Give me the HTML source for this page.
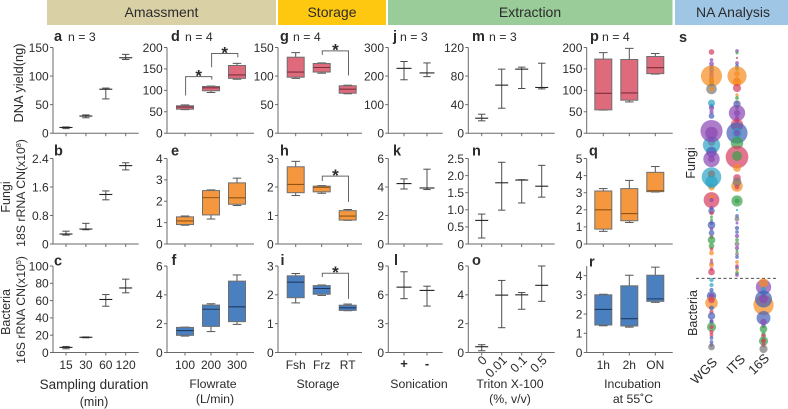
<!DOCTYPE html>
<html lang="en">
<head>
<meta charset="utf-8">
<title>Air sampling optimisation panels</title>
<style>
html,body{margin:0;padding:0;background:#fff;width:788px;height:409px;overflow:hidden}
svg{display:block;font-family:"Liberation Sans",sans-serif}
text{fill:#2b2b2b}
</style>
</head>
<body>
<svg id="figure" xmlns="http://www.w3.org/2000/svg" width="788" height="409" viewBox="0 0 788 409">
  <rect x="47" y="0" width="229" height="25" fill="#d9d0a6"/>
  <text x="161.500" y="17" font-size="14" text-anchor="middle">Amassment</text>
  <rect x="278" y="0" width="108" height="25" fill="#fdc80f"/>
  <text x="332" y="17" font-size="14" text-anchor="middle">Storage</text>
  <rect x="388" y="0" width="284.500" height="25" fill="#99cc98"/>
  <text x="530" y="17" font-size="14" text-anchor="middle">Extraction</text>
  <rect x="675" y="0" width="113" height="25" fill="#a0c6e6"/>
  <text x="733" y="17" font-size="14" text-anchor="middle">NA Analysis</text>

  <text transform="translate(23,83) rotate(-90)" font-size="12.800" text-anchor="middle">DNA yield(ng)</text>
  <text transform="translate(10,197) rotate(-90)" font-size="12.500" text-anchor="middle">Fungi</text>
  <text transform="translate(25,193) rotate(-90)" font-size="12.300" text-anchor="middle">18S rRNA CN(x10<tspan font-size="7" dy="-4">8</tspan><tspan dy="4">)</tspan></text>
  <text transform="translate(10,312) rotate(-90)" font-size="12.500" text-anchor="middle">Bacteria</text>
  <text transform="translate(25,310) rotate(-90)" font-size="12.300" text-anchor="middle">16S rRNA CN(x10<tspan font-size="7" dy="-4">5</tspan><tspan dy="4">)</tspan></text>

  <text x="94" y="389" font-size="13.500" text-anchor="middle">Sampling duration</text>
  <text x="94" y="406" font-size="12.500" text-anchor="middle">(min)</text>
  <text x="213" y="388" font-size="12.300" text-anchor="middle">Flowrate</text>
  <text x="215" y="403" font-size="12.300" text-anchor="middle">(L/min)</text>
  <text x="318" y="388" font-size="12.300" text-anchor="middle">Storage</text>
  <text x="419" y="388" font-size="12.300" text-anchor="middle">Sonication</text>
  <text x="510" y="388" font-size="12.300" text-anchor="middle">Triton X-100</text>
  <text x="510" y="403" font-size="12.300" text-anchor="middle">(%, v/v)</text>
  <text x="632.500" y="388" font-size="12.300" text-anchor="middle">Incubation</text>
  <text x="633" y="403" font-size="12.300" text-anchor="middle">at 55˚C</text>

  <text x="679" y="42" font-size="14.500" font-weight="bold">s</text>
  <text transform="translate(695,163) rotate(-90)" font-size="12.500" text-anchor="middle">Fungi</text>
  <text transform="translate(697,313) rotate(-90)" font-size="12.500" text-anchor="middle">Bacteria</text>
  <line x1="696" x2="778" y1="278.300" y2="278.300" stroke="#333" stroke-width="0.800" stroke-dasharray="3 2.500"/>
  <text transform="translate(718,363) rotate(-45)" font-size="13" text-anchor="end">WGS</text>
  <text transform="translate(746,360) rotate(-45)" font-size="13" text-anchor="end">ITS</text>
  <text transform="translate(770,359) rotate(-45)" font-size="13" text-anchor="end">16S</text>

  <g id="panels"></g>
  <g id="bubbles"></g>
</svg>

<script>
// ---------- category labels ----------
const durations = ['15', '30', '60', '120'];
const flowrates = ['100', '200', '300'];
const storages = ['Fsh', 'Frz', 'RT'];
const sonications = ['+', '-'];
const tritons = ['0', '0.01', '0.1', '0.5'];
const incubations = ['1h', '2h', 'ON'];

// ---------- y tick labels ----------
const ticksA = [0, 50, 100, 150];
const ticksB = [0, 0.8, 1.6, 2.4];
const ticksC = [0, 20, 40, 60, 80, 100];
const ticksD = [0, 50, 100, 150, 200];
const ticksE = [0, 1, 2, 3, 4];
const ticksF = [0, 2, 4, 6];
const ticksG = [0, 50, 100, 150];
const ticksH = [0, 1, 2, 3];
const ticksI = [0, 1, 2, 3];
const ticksJ = [0, 100, 200, 300];
const ticksK = [0, 2, 4, 6];
const ticksL = [0, 3, 6, 9];
const ticksM = [0, 40, 80, 120];
const ticksN = [0, 0.5, 1.0, 1.5, 2.0, 2.5];
const ticksO = [0, 2, 4, 6];
const ticksP = [0, 50, 100, 150, 200];
const ticksQ = [0, 1, 2, 3, 4, 5];
const ticksR = [0, 1, 2, 3, 4];

// ---------- error-bar series: [low, centre, high] ----------
const seriesA = [[8, 10, 11], [27, 30, 32], [60, 77, 79], [129, 132, 138]];
const seriesB = [[0.25, 0.28, 0.36], [0.40, 0.42, 0.58], [1.24, 1.39, 1.49], [2.08, 2.20, 2.28]];
const seriesC = [[4.3, 5.9, 7], [17, 17.6, 18], [53.5, 61.3, 67], [69, 74.6, 84.8]];
const seriesJ = [[187, 227, 251], [198, 211, 246]];
const seriesK = [[3.86, 4.24, 4.57], [3.82, 3.93, 5.25]];
const seriesL = [[5.6, 6.8, 8.4], [4.83, 6.46, 6.9]];
const seriesM = [[17.3, 21, 26.6], [35, 67.3, 89.7], [62.6, 89.7, 92.5], [62, 64, 98]];
const seriesN = [[0.175, 0.69, 0.875], [0.99, 1.79, 2.39], [1.2, 1.87, 1.88], [1.37, 1.69, 2.3]];
const seriesO = [[0.12, 0.4, 0.54], [1.72, 3.98, 5], [3, 4, 4.16], [3.55, 4.66, 6]];

// ---------- box series: [low, q1, median, q3, high] ----------
const seriesD = [[55, 56, 61, 64, 66], [95, 99, 106, 109, 110], [126, 128, 136, 158, 163]];
const seriesE = [[0.88, 0.91, 1.08, 1.27, 1.31], [1.17, 1.36, 2.17, 2.5, 2.53], [1.8, 1.86, 2.16, 2.86, 3.08]];
const seriesF = [[1.14, 1.19, 1.52, 1.74, 1.76], [1.45, 1.81, 3.0, 3.29, 3.38], [1.95, 2.14, 3.17, 4.95, 5.38]];
const seriesG = [[96, 98, 107, 133, 141], [105, 107, 115, 122, 123], [69, 70, 77, 83, 84]];
const seriesH = [[1.70, 1.80, 2.09, 2.71, 2.9], [1.78, 1.83, 1.99, 2.03, 2.05], [0.83, 0.84, 0.98, 1.17, 1.21]];
const seriesI = [[1.72, 1.90, 2.44, 2.66, 2.74], [1.98, 2.02, 2.22, 2.32, 2.34], [1.45, 1.46, 1.55, 1.64, 1.68]];
const seriesP = [[54, 54.5, 93, 173, 188], [73, 77, 94, 172, 198], [138, 139, 153, 179, 186]];
const seriesQ = [[0.74, 0.87, 2.0, 3.1, 3.24], [1.26, 1.36, 1.78, 3.24, 3.72], [3.04, 3.06, 3.12, 4.19, 4.53]];
const seriesR = [[1.39, 1.43, 2.24, 3, 3.03], [1.32, 1.38, 1.76, 3.47, 4.02], [2.61, 2.66, 2.79, 4.02, 4.44]];

// ---------- significance brackets: [fromCategory, toCategory, leftEnd, top, rightEnd] in data units ----------
const bracketsD = [[0, 1, 88, 132, 125], [1, 2, 154, 186, 177]];
const bracketsG = [[1, 2, 137, 144, 101]];
const bracketsH = [[1, 2, 2.21, 2.38, 1.48]];
const bracketsI = [[1, 2, 2.62, 2.75, 1.86]];

// ---------- bubble tracks: [taxon rank, abundance, phylum index] ----------
const phylumColors = ['#d63c5e', '#8a46b4', '#4360b8', '#2ba3c4', '#37a048', '#f58a1e', '#777777'];
const wgsFungi = [[22,6,0],[30,2,1],[34,4,1],[37,3,2],[40,4,2],[43,3,1],[46,4,1],[49,3,4],[52,4,4],[46,110,5],[50,6,5],[53,4,5],[59,25,6],[59,4,5],[73,10,3],[76,4,3],[78,5,1],[82,3,1],[86,6,2],[112,12,0],[115,72,3],[101,121,1],[103,36,1],[122,25,2],[129,64,1],[129,9,1],[157,9,5],[147,94,3],[144,11,6],[152,36,3],[170,59,0],[167,4,5],[170,3,1],[178,3,1],[181,8,2],[183,3,0],[187,1,4],[190,1,4],[193,2,1],[195,12,2],[199,2,1],[203,6,2],[207,2,0],[210,12,4],[216,6,4],[219,2,0],[223,4,5],[230,1,0],[233,2,1],[235,4,5],[239,2,0],[242,9,0]];
const itsFungi = [[21,2,1],[23,1,4],[28,0.5,0],[33,2,1],[36,2,2],[39,2,4],[46,90,5],[44,6,5],[50,6,5],[52,16,5],[58,14,0],[65,1.5,5],[68,2,4],[72,1.5,5],[74,11,2],[78,2,4],[83,64,1],[83,8,1],[88,3,1],[91,3,1],[95,36,0],[103,110,2],[103,22,3],[103,8,1],[113,36,4],[127,128,0],[126,22,4],[138,12,5],[148,12,0],[156,30,5],[152,16,6],[157,4,0],[171,28,4],[171,4,4],[180,0.5,3],[186,2,2],[189,4,6],[193,1,1],[198,3,2],[202,2,2],[206,3,1],[210,2,4],[214,4,6],[218,3,1],[221,1,4],[224,2,6],[227,2,2],[232,2,5],[236,2,0],[238,2,2],[240,1,5],[243,2,4],[245,2,1]];
const wgsBacteria = [[250,3,3],[255,3,3],[260,3,2],[266,20,2],[266,6,1],[273,36,5],[270,8,0],[278,4,2],[282,3,0],[286,11,2],[291,2,1],[292,3,2],[297,18,4],[297,3,0],[302,3,0],[305,2,0],[308,2,2],[312,2,2],[315,2,1],[317,9,6]];
const s16Bacteria = [[257,56,1],[253,20,5],[259,4,3],[263,6,3],[275,100,5],[269,69,2],[269,16,1],[288,45,2],[292,8,1],[296,3,1],[299,12,4],[304,3,4],[306,4,0],[310,2,0],[311,18,4],[311,4,0],[315,3,0],[319,14,6]];

// ---------- layout ----------
const COLS = [
  {axisX: 53, right: 138.7, first: 66, step: 19.9},
  {axisX: 167, right: 254, first: 185, step: 26},
  {axisX: 278, right: 362, first: 295.7, step: 26},
  {axisX: 388.3, right: 442.7, first: 404, step: 23},
  {axisX: 468.3, right: 554.7, first: 481.7, step: 20},
  {axisX: 586.7, right: 672.7, first: 603.3, step: 26}
];
const ROWS = [
  {top: 47.5, bottom: 133.2},
  {top: 158.5, bottom: 244},
  {top: 266, bottom: 352.5}
];
const PALETTE = {
  red: {fill: '#df6a7c', median: '#7c2f3e'},
  orange: {fill: '#f4973e', median: '#8f5415'},
  blue: {fill: '#4a7fc0', median: '#1d3a61'}
};
const NS = 'http://www.w3.org/2000/svg';
const panelsRoot = document.getElementById('panels');
const bubblesRoot = document.getElementById('bubbles');

function mk(tag, parent, attrs) {
  const el = document.createElementNS(NS, tag);
  Object.keys(attrs).forEach(function (k) { el.setAttribute(k, attrs[k]); });
  parent.appendChild(el);
  return el;
}

function drawAxes(g, key, col, row, cats, ticks, yScale, showLabels) {
  const yAxis = mk('line', g, {x1: col.axisX, x2: col.axisX, y1: row.top, y2: row.bottom + 0.4, stroke: '#6a6a6a', 'stroke-width': 1});
  
  
  const xAxis = mk('line', g, {x1: col.axisX, x2: col.right, y1: row.bottom, y2: row.bottom, stroke: '#6a6a6a', 'stroke-width': 1});
  
  
  ticks.forEach(function (t) {
    const y = yScale(t);
    const tick = mk('line', g, {x1: col.axisX - 3, x2: col.axisX, y1: y, y2: y, stroke: '#6a6a6a', 'stroke-width': 1});
    
    
    const label = mk('text', g, {x: col.axisX - 4.3, y: y + 4.3, 'font-size': 12, 'text-anchor': 'end'});
    
    
    label.textContent = (ticks === ticksN && t > 0) ? t.toFixed(1) : String(t);
  });
  cats.forEach(function (c, i) {
    const x = col.first + i * col.step;
    const tick = mk('line', g, {x1: x, x2: x, y1: row.bottom, y2: row.bottom + 3, stroke: '#6a6a6a', 'stroke-width': 1});
    
    
    if (!showLabels) return;
    let label;
    if (cats === tritons) {
      label = mk('text', g, {transform: 'translate(' + (x + 6) + ',361) rotate(-45)', 'font-size': 12.5, 'text-anchor': 'end'});
    } else if (cats === sonications) {
      label = mk('text', g, {x: x, y: 368, 'font-size': 13, 'font-weight': 'bold', 'text-anchor': 'middle'});
    } else {
      label = mk('text', g, {x: x, y: 369, 'font-size': 12, 'text-anchor': 'middle'});
    }
    
    
    label.textContent = c;
  });
}

function drawErrorBars(g, key, col, cats, data, yScale, midWidth) {
  data.forEach(function (d, i) {
    const x = col.first + i * col.step;
    const group = mk('g', g, {stroke: '#4d4d4d', 'stroke-width': 1, fill: 'none'});
    
    
    mk('line', group, {x1: x, x2: x, y1: yScale(d[0]), y2: yScale(d[2])});
    mk('line', group, {x1: x - 3.7, x2: x + 3.7, y1: yScale(d[0]), y2: yScale(d[0])});
    mk('line', group, {x1: x - 3.7, x2: x + 3.7, y1: yScale(d[2]), y2: yScale(d[2])});
    mk('line', group, {x1: x - midWidth / 2, x2: x + midWidth / 2, y1: yScale(d[1]), y2: yScale(d[1]), stroke: '#222', 'stroke-width': 1.1});
  });
}

function drawBoxes(g, key, col, cats, data, yScale, colors) {
  data.forEach(function (d, i) {
    const x = col.first + i * col.step;
    const group = mk('g', g, {});
    
    
    const w = mk('g', group, {stroke: '#555', 'stroke-width': 1});
    mk('line', w, {x1: x, x2: x, y1: yScale(d[0]), y2: yScale(d[4])});
    mk('line', w, {x1: x - 4.3, x2: x + 4.3, y1: yScale(d[0]), y2: yScale(d[0])});
    mk('line', w, {x1: x - 4.3, x2: x + 4.3, y1: yScale(d[4]), y2: yScale(d[4])});
    mk('rect', group, {x: x - 8.5, y: yScale(d[3]), width: 17, height: yScale(d[1]) - yScale(d[3]), fill: colors.fill, stroke: '#6f6f6f', 'stroke-width': 1});
    mk('line', group, {x1: x - 8.5, x2: x + 8.5, y1: yScale(d[2]), y2: yScale(d[2]), stroke: colors.median, 'stroke-width': 1.1});
  });
}

function drawBrackets(g, key, col, brackets, yScale) {
  brackets.forEach(function (b, i) {
    const x1 = col.first + b[0] * col.step + 0.6;
    const x2 = col.first + b[1] * col.step + 0.8;
    const path = mk('path', g, {
      d: 'M' + x1 + ' ' + yScale(b[2]) + 'V' + yScale(b[3]) + 'H' + x2 + 'V' + yScale(b[4]),
      fill: 'none', stroke: '#666', 'stroke-width': 1
    });
    
    
    const star = mk('text', g, {x: (x1 + x2) / 2, y: yScale(b[3]) + 4.8, 'font-size': 17, 'font-weight': 'bold', 'text-anchor': 'middle'});
    
    
    star.textContent = '*';
  });
}

function drawPanel(key, colIdx, rowIdx, cats, ticks, maxVal, data, kind, labelX, labelY, nText, nX, opts) {
  const col = COLS[colIdx];
  const row = ROWS[rowIdx];
  const o = opts || {};
  const yScale = function (v) { return row.bottom - (v / maxVal) * (row.bottom - row.top); };
  const g = mk('g', panelsRoot, {});
  
  
  drawAxes(g, key, col, row, cats, ticks, yScale, rowIdx === 2);
  if (kind === 'err') {
    drawErrorBars(g, key, col, cats, data, yScale, colIdx === 3 ? 15 : 13);
  } else {
    drawBoxes(g, key, col, cats, data, yScale, PALETTE[kind]);
  }
  if (o.brackets) drawBrackets(g, key, col, o.brackets, yScale);
  const letter = mk('text', g, {x: labelX, y: labelY, 'font-size': 14.5, 'font-weight': 'bold'});
  
  
  letter.textContent = key;
  if (nText) {
    const n = mk('text', g, {x: nX, y: labelY, 'font-size': 12.3});
    
    
    n.textContent = nText;
  }
}

drawPanel('a', 0, 0, durations, ticksA, 150, seriesA, 'err', 54, 41, 'n = 3', 68);
drawPanel('b', 0, 1, durations, ticksB, 2.4, seriesB, 'err', 54, 155.7);
drawPanel('c', 0, 2, durations, ticksC, 100, seriesC, 'err', 54, 265.5);
drawPanel('d', 1, 0, flowrates, ticksD, 200, seriesD, 'red', 171, 41, 'n = 4', 185, {brackets: bracketsD});
drawPanel('e', 1, 1, flowrates, ticksE, 4, seriesE, 'orange', 171, 155.7);
drawPanel('f', 1, 2, flowrates, ticksF, 6, seriesF, 'blue', 171.5, 265);
drawPanel('g', 2, 0, storages, ticksG, 150, seriesG, 'red', 280, 41, 'n = 4', 293, {brackets: bracketsG});
drawPanel('h', 2, 1, storages, ticksH, 3, seriesH, 'orange', 280, 155.7, null, 0, {brackets: bracketsH});
drawPanel('i', 2, 2, storages, ticksI, 3, seriesI, 'blue', 280.5, 265, null, 0, {brackets: bracketsI});
drawPanel('j', 3, 0, sonications, ticksJ, 300, seriesJ, 'err', 393, 41, 'n = 3', 400);
drawPanel('k', 3, 1, sonications, ticksK, 6, seriesK, 'err', 393, 155.7);
drawPanel('l', 3, 2, sonications, ticksL, 9, seriesL, 'err', 394, 265);
drawPanel('m', 4, 0, tritons, ticksM, 120, seriesM, 'err', 472, 41, 'n = 3', 489);
drawPanel('n', 4, 1, tritons, ticksN, 2.5, seriesN, 'err', 472, 155.7);
drawPanel('o', 4, 2, tritons, ticksO, 6, seriesO, 'err', 472, 265);
drawPanel('p', 5, 0, incubations, ticksP, 200, seriesP, 'red', 590, 41, 'n = 4', 602);
drawPanel('q', 5, 1, incubations, ticksQ, 5, seriesQ, 'orange', 589, 155.7);
drawPanel('r', 5, 2, incubations, ticksR, 4.5, seriesR, 'blue', 589, 266.5);

function rankY(rank) { return 30 + rank; }
function bubbleR(v) { return 0.5 + Math.sqrt(v) * 0.96; }

function drawBubbles(track, name, x) {
  track.forEach(function (b, i) {
    const c = mk('circle', bubblesRoot, {
      cx: x, cy: rankY(b[0]), r: bubbleR(b[1]),
      fill: phylumColors[b[2]], 'fill-opacity': 0.7
    });
    
    
  });
}

drawBubbles(wgsFungi, 'wgs-fungi', 711.5);
drawBubbles(itsFungi, 'its-fungi', 737);
drawBubbles(wgsBacteria, 'wgs-bacteria', 711.5);
drawBubbles(s16Bacteria, '16s-bacteria', 763.5);
</script>
</body>
</html>
